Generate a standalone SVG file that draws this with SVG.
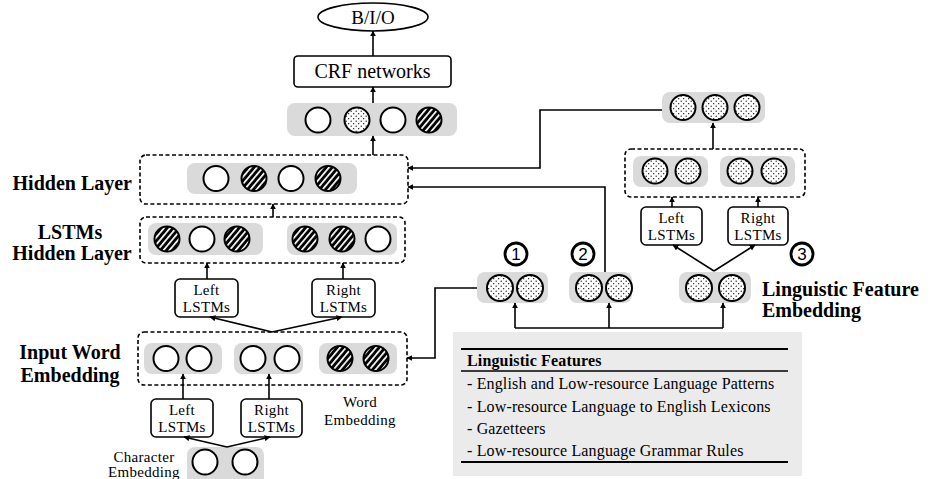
<svg xmlns="http://www.w3.org/2000/svg" width="933" height="479" viewBox="0 0 933 479">
<defs>
  <pattern id="hatch" patternUnits="userSpaceOnUse" width="4.6" height="4.6" patternTransform="rotate(40)">
    <rect width="4.6" height="4.6" fill="#000"/>
    <rect width="1.7" height="4.6" fill="#fff"/>
  </pattern>
  <pattern id="dots" patternUnits="userSpaceOnUse" width="5" height="5">
    <rect width="5" height="5" fill="#fff"/>
    <circle cx="1.2" cy="1.2" r="0.65" fill="#000"/>
    <circle cx="3.7" cy="3.7" r="0.65" fill="#000"/>
  </pattern>
  <marker id="arr" viewBox="0 0 10 10" refX="9" refY="5" markerWidth="6" markerHeight="6" markerUnits="userSpaceOnUse" orient="auto">
    <path d="M0,0 L10,5 L0,10 z" fill="#000"/>
  </marker>
</defs>
<style>
  .g { fill: #dadada; }
  .dash { fill: none; stroke: #000; stroke-width: 1.6; stroke-dasharray: 4 2.5; }
  .box { fill: #fff; stroke: #000; stroke-width: 1.6; }
  .c { stroke: #000; stroke-width: 2; }
  .w { fill: #fff; }
  .h { fill: url(#hatch); }
  .d { fill: url(#dots); }
  .t { font-family: "Liberation Serif", "Times New Roman", serif; fill: #000; }
  .s { font-size: 15px; letter-spacing: 0.3px; text-anchor: middle; }
  .b { font-weight: bold; font-size: 20px; }
  .num { fill: #fff; stroke: #000; stroke-width: 2.8; }
  .nt { font-family: "Liberation Sans", Arial, sans-serif; font-size: 17px; text-anchor: middle; fill: #000; }
  .con { fill: none; stroke: #000; stroke-width: 1.6; }
  .ca { fill: none; stroke: #000; stroke-width: 1.6; marker-end: url(#arr); }
  .ft { font-family: "Liberation Serif", "Times New Roman", serif; font-size: 16px; letter-spacing: 0.15px; fill: #000; }
</style>

<g id="bio">
  <ellipse cx="373" cy="17" rx="55" ry="14" fill="#fff" stroke="#000" stroke-width="1.6"/>
  <text class="t" x="373" y="24" font-size="19" text-anchor="middle">B/I/O</text>
</g>
<g id="crf">
  <rect class="box" x="294" y="56" width="157" height="31" rx="4"/>
  <text class="t" x="372.5" y="78" font-size="20" text-anchor="middle">CRF networks</text>
</g>
<g id="output-layer">
  <rect class="g" x="287" y="103" width="170" height="33" rx="8"/>
  <circle class="c w" cx="318" cy="120" r="12.5"/>
  <circle class="c d" cx="357" cy="120" r="12.5"/>
  <circle class="c w" cx="393" cy="120" r="12.5"/>
  <circle class="c h" cx="429" cy="120" r="12.5"/>
</g>
<g id="hidden-layer">
  <rect class="dash" x="140" y="155" width="268" height="49" rx="6"/>
  <rect class="g" x="187" y="163" width="170" height="31" rx="8"/>
  <circle class="c w" cx="216" cy="178.5" r="12.5"/>
  <circle class="c h" cx="254" cy="178.5" r="12.5"/>
  <circle class="c w" cx="291" cy="178.5" r="12.5"/>
  <circle class="c h" cx="328" cy="178.5" r="12.5"/>
  <text class="t b" x="132" y="190" text-anchor="end">Hidden Layer</text>
</g>
<g id="lstm-hidden-layer">
  <rect class="dash" x="140" y="217" width="265" height="46" rx="6"/>
  <rect class="g" x="148" y="223" width="115" height="32" rx="8"/>
  <rect class="g" x="287" y="223" width="110" height="32" rx="8"/>
  <circle class="c h" cx="167" cy="239" r="12.5"/>
  <circle class="c w" cx="202" cy="239" r="12.5"/>
  <circle class="c h" cx="237" cy="239" r="12.5"/>
  <circle class="c h" cx="305" cy="239" r="12.5"/>
  <circle class="c h" cx="342" cy="239" r="12.5"/>
  <circle class="c w" cx="378" cy="239" r="12.5"/>
  <text class="t b" x="70" y="239" text-anchor="middle">LSTMs</text>
  <text class="t b" x="72" y="260" text-anchor="middle">Hidden Layer</text>
</g>
<g id="word-left-lstm">
  <rect class="box" x="175" y="279" width="63" height="38" rx="5"/>
  <text class="t s" x="206.5" y="295">Left</text>
  <text class="t s" x="206.5" y="312">LSTMs</text>
</g>
<g id="word-right-lstm">
  <rect class="box" x="312" y="279" width="63" height="38" rx="5"/>
  <text class="t s" x="343.5" y="295">Right</text>
  <text class="t s" x="343.5" y="312">LSTMs</text>
</g>
<g id="input-word-embedding">
  <rect class="dash" x="138" y="332" width="269" height="53" rx="6"/>
  <rect class="g" x="144" y="343" width="78" height="31" rx="8"/>
  <rect class="g" x="234" y="343" width="69" height="31" rx="8"/>
  <rect class="g" x="319" y="343" width="78" height="31" rx="8"/>
  <circle class="c w" cx="166" cy="358.5" r="12.5"/>
  <circle class="c w" cx="199" cy="358.5" r="12.5"/>
  <circle class="c w" cx="253" cy="358.5" r="12.5"/>
  <circle class="c w" cx="287" cy="358.5" r="12.5"/>
  <circle class="c h" cx="340" cy="358.5" r="12.5"/>
  <circle class="c h" cx="376" cy="358.5" r="12.5"/>
  <text class="t b" x="70" y="359" text-anchor="middle">Input Word</text>
  <text class="t b" x="70" y="382" text-anchor="middle">Embedding</text>
  <text class="t s" x="360" y="407">Word</text>
  <text class="t s" x="360" y="425">Embedding</text>
</g>
<g id="char-left-lstm">
  <rect class="box" x="151" y="399" width="62" height="38" rx="5"/>
  <text class="t s" x="182" y="415">Left</text>
  <text class="t s" x="182" y="432">LSTMs</text>
</g>
<g id="char-right-lstm">
  <rect class="box" x="241" y="399" width="61" height="38" rx="5"/>
  <text class="t s" x="271.5" y="415">Right</text>
  <text class="t s" x="271.5" y="432">LSTMs</text>
</g>
<g id="character-embedding">
  <rect class="g" x="187" y="447" width="77" height="42" rx="8"/>
  <circle class="c w" cx="205" cy="462" r="12.5"/>
  <circle class="c w" cx="245" cy="462" r="12.5"/>
  <text class="t s" x="144" y="462">Character</text>
  <text class="t s" x="144" y="477">Embedding</text>
</g>

<g id="feature-output">
  <rect class="g" x="662" y="92" width="103" height="31" rx="8"/>
  <circle class="c d" cx="683" cy="107.5" r="12.5"/>
  <circle class="c d" cx="715" cy="107.5" r="12.5"/>
  <circle class="c d" cx="747" cy="107.5" r="12.5"/>
</g>
<g id="feature-lstm-hidden">
  <rect class="dash" x="625" y="149" width="180" height="48" rx="6"/>
  <rect class="g" x="633" y="156" width="75" height="31" rx="8"/>
  <rect class="g" x="720" y="156" width="75" height="31" rx="8"/>
  <circle class="c d" cx="655" cy="171" r="12.5"/>
  <circle class="c d" cx="688" cy="171" r="12.5"/>
  <circle class="c d" cx="740" cy="171" r="12.5"/>
  <circle class="c d" cx="774" cy="171" r="12.5"/>
</g>
<g id="feature-left-lstm">
  <rect class="box" x="641" y="207" width="61" height="38" rx="5"/>
  <text class="t s" x="671.5" y="223">Left</text>
  <text class="t s" x="671.5" y="240">LSTMs</text>
</g>
<g id="feature-right-lstm">
  <rect class="box" x="728" y="207" width="60" height="38" rx="5"/>
  <text class="t s" x="758" y="223">Right</text>
  <text class="t s" x="758" y="240">LSTMs</text>
</g>
<g id="feature-1">
  <circle class="num" cx="516" cy="254" r="11"/>
  <text class="nt" x="516" y="260">1</text>
  <rect class="g" x="477" y="272" width="71" height="31" rx="8"/>
  <circle class="c d" cx="500" cy="288" r="13"/>
  <circle class="c d" cx="530" cy="288" r="13"/>
</g>
<g id="feature-2">
  <circle class="num" cx="583" cy="254" r="11"/>
  <text class="nt" x="583" y="260">2</text>
  <rect class="g" x="569" y="272" width="63" height="31" rx="8"/>
  <circle class="c d" cx="589" cy="288" r="13"/>
  <circle class="c d" cx="619" cy="288" r="13"/>
</g>
<g id="feature-3">
  <circle class="num" cx="802" cy="254" r="11"/>
  <text class="nt" x="802" y="260">3</text>
  <rect class="g" x="679" y="272" width="72" height="31" rx="8"/>
  <circle class="c d" cx="699" cy="288" r="13"/>
  <circle class="c d" cx="732" cy="288" r="13"/>
  <text class="t b" x="762" y="296">Linguistic Feature</text>
  <text class="t b" x="762" y="317">Embedding</text>
</g>
<g id="linguistic-features">
  <rect x="453" y="332" width="349" height="144" fill="#ebebeb"/>
  <line x1="461" y1="349" x2="788" y2="349" stroke="#000" stroke-width="2"/>
  <line x1="461" y1="371" x2="788" y2="371" stroke="#000" stroke-width="1.5"/>
  <line x1="461" y1="462" x2="788" y2="462" stroke="#000" stroke-width="2"/>
  <text class="ft" x="467" y="366" font-weight="bold">Linguistic Features</text>
  <text class="ft" x="467" y="389">- English and Low-resource Language Patterns</text>
  <text class="ft" x="467" y="412">- Low-resource Language to English Lexicons</text>
  <text class="ft" x="467" y="434">- Gazetteers</text>
  <text class="ft" x="467" y="456">- Low-resource Language Grammar Rules</text>
</g>

<g id="connectors">
  <line class="ca" x1="373" y1="103" x2="373" y2="87"/>
  <line class="ca" x1="373" y1="56" x2="373" y2="31"/>
  <line class="ca" x1="373" y1="155" x2="373" y2="136"/>
  <line class="ca" x1="273" y1="217" x2="273" y2="204"/>
  <line class="ca" x1="207" y1="279" x2="207" y2="263"/>
  <line class="ca" x1="343" y1="279" x2="343" y2="263"/>
  <line class="ca" x1="272" y1="332" x2="210" y2="317"/>
  <line class="ca" x1="272" y1="332" x2="342" y2="317"/>
  <line class="ca" x1="183" y1="399" x2="183" y2="374"/>
  <line class="ca" x1="269" y1="399" x2="269" y2="374"/>
  <line class="ca" x1="227" y1="447" x2="184" y2="437"/>
  <line class="ca" x1="227" y1="447" x2="270" y2="437"/>
  <polyline class="ca" points="662,110 540,110 540,168 408,168"/>
  <polyline class="ca" points="605,272 605,187 408,187"/>
  <polyline class="ca" points="477,288 435,288 435,358 407,358"/>
  <line class="ca" x1="713" y1="149" x2="713" y2="123"/>
  <line class="ca" x1="672" y1="207" x2="672" y2="197"/>
  <line class="ca" x1="758" y1="207" x2="758" y2="197"/>
  <line class="ca" x1="714" y1="271" x2="673" y2="245"/>
  <line class="ca" x1="714" y1="271" x2="755" y2="245"/>
  <line class="con" x1="515" y1="328" x2="723" y2="328"/>
  <line class="ca" x1="515" y1="328" x2="515" y2="303"/>
  <line class="ca" x1="609" y1="328" x2="609" y2="303"/>
  <line class="ca" x1="723" y1="328" x2="723" y2="303"/>
</g>
</svg>
